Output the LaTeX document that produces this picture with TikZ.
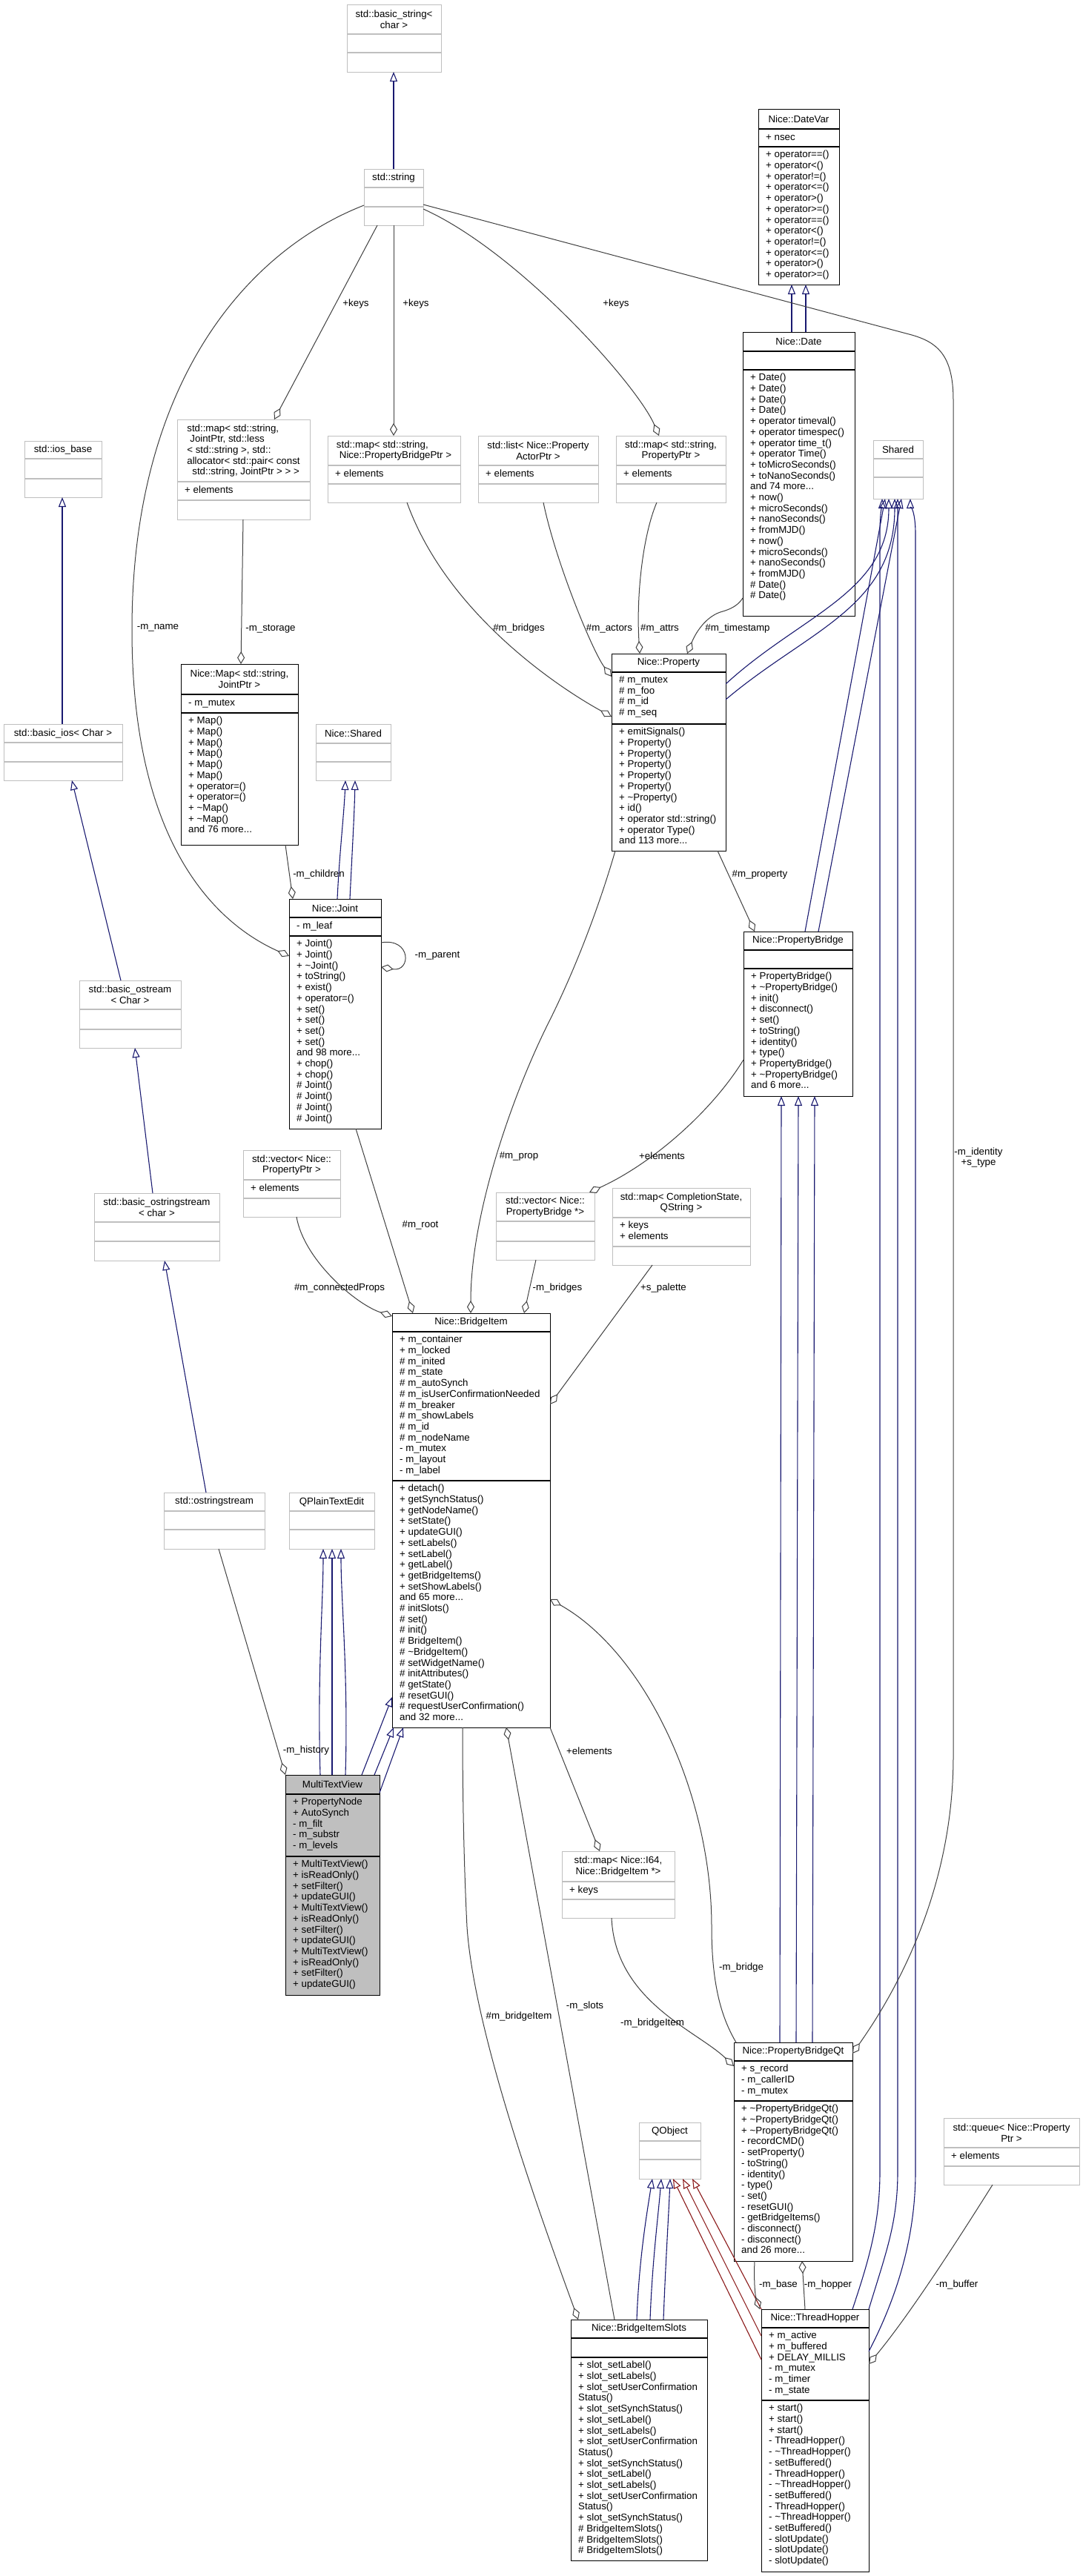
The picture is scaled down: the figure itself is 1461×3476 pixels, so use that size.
\documentclass[tikz,border=0pt]{standalone}
\usepackage{fontspec}
\setmainfont{Liberation Sans}
\usetikzlibrary{arrows.meta,calc}
\definecolor{navy}{HTML}{191970}
\definecolor{fire}{HTML}{8B1A1A}
\definecolor{edg}{HTML}{404040}
\definecolor{gbord}{HTML}{BFBFBF}
\definecolor{selfill}{HTML}{BFBFBF}
\newcommand\cpt[3]{($(#1.north west)+({#2-\csname nx-#1\endcsname},{#3-\csname ny-#1\endcsname})$)}
\newcommand\umlbox[9]{%
  \expandafter\gdef\csname nx-#1\endcsname{#3}%
  \expandafter\gdef\csname ny-#1\endcsname{#4}%
  \gdef\cx{#3}\gdef\cda{#7}\gdef\cdb{#8}\gdef\cname{#1}%
  \node[#2, anchor=north west, minimum width={(#5-#3)*1pt}, minimum height={(#6-#4)*1pt}] (#1) at (#3,#4) {};%
  \draw[#2 div] (#3,#7) -- (#5,#7) (#3,#8) -- (#5,#8);%
  \node[ttl,tal] (#1-t) at ({(#3+#5)/2},{(#4+#7)/2}) {#9};%
}
\newcommand\uattr[1]{\node[lst] (\cname-a) at (\cx+10,\cda+5) {#1};}
\newcommand\umeth[1]{\node[lst] (\cname-m) at (\cx+10,\cdb+5) {#1};}
\tikzset{
  every node/.style={font=\fontsize{13.3}{14.7}\selectfont},
  bx/.style={draw=black, line width=1.3pt, inner sep=0pt},
  gx/.style={draw=gbord, line width=1.3pt, inner sep=0pt},
  sx/.style={draw=black, fill=selfill, line width=1.3pt, inner sep=0pt},
  bx div/.style={draw=black, line width=1.3pt},
  gx div/.style={draw=gbord, line width=1.3pt},
  sx div/.style={draw=black, line width=1.3pt},
  ttl/.style={inner sep=0pt},
  tal/.style={align=center},
  lst/.style={align=left, anchor=north west, inner sep=0pt, execute at begin node={\rule{0pt}{10.5pt}}},
  inh/.style={draw=navy, line width=1.1pt, -{Triangle[open,length=13pt,width=10pt]}},
  inhr/.style={draw=fire, line width=1.1pt, -{Triangle[open,length=13pt,width=10pt]}},
  use/.style={draw=edg, line width=1pt, {Diamond[open,length=17pt,width=10pt]}-},
  lab/.style={inner sep=0pt}
}
\begin{document}
\begin{tikzpicture}[x=1pt,y=-1pt]
\fill[white] (0,0) rectangle (1461,3476);
\useasboundingbox (0,0) rectangle (1461,3476);

% ---------- classes ----------
\umlbox{bstr}{gx}{468}{6}{595}{97}{46}{71}{std::basic\_string<\\char >}
\umlbox{str}{gx}{491}{228}{571}{304}{253}{279}{std::string}

\umlbox{dvar}{bx}{1023}{147}{1132}{384}{174}{198}{Nice::DateVar}
\uattr{+ nsec}
\umeth{+ operator==()\\+ operator<()\\+ operator!=()\\+ operator<=()\\+ operator>()\\+ operator>=()\\+ operator==()\\+ operator<()\\+ operator!=()\\+ operator<=()\\+ operator>()\\+ operator>=()}

\umlbox{date}{bx}{1002}{448}{1153}{831}{474}{499}{Nice::Date}
\umeth{+ Date()\\+ Date()\\+ Date()\\+ Date()\\+ operator timeval()\\+ operator timespec()\\+ operator time\_t()\\+ operator Time()\\+ toMicroSeconds()\\+ toNanoSeconds()\\and 74 more...\\+ now()\\+ microSeconds()\\+ nanoSeconds()\\+ fromMJD()\\+ now()\\+ microSeconds()\\+ nanoSeconds()\\+ fromMJD()\\\# Date()\\\# Date()}

\umlbox{shr}{gx}{1178}{594}{1245}{673}{619}{644}{Shared}

\umlbox{ios}{gx}{33}{595}{137}{671}{619}{646}{std::ios\_base}
\umlbox{bios}{gx}{5}{977}{165}{1053}{1002}{1028}{std::basic\_ios< Char >}
\umlbox{bost}{gx}{107}{1323}{244}{1414}{1362}{1389}{std::basic\_ostream\\< Char >}
\umlbox{bostr}{gx}{127}{1610}{296}{1701}{1649}{1675}{std::basic\_ostringstream\\< char >}
\umlbox{ostr}{gx}{221}{2014}{357}{2090}{2039}{2064}{std::ostringstream}

\tikzset{tal/.style={align=left}}
\umlbox{mjp}{gx}{239}{566}{418}{701}{650}{675}{std::map< std::string,\\\hspace{4pt}JointPtr, std::less\\< std::string >, std::\\allocator< std::pair< const\\\hspace{7pt}std::string, JointPtr > > >}
\uattr{+ elements}
\umlbox{mpb}{gx}{442}{588}{621}{678}{628}{653}{std::map< std::string,\\\hspace{4pt}Nice::PropertyBridgePtr >}
\uattr{+ elements}
\tikzset{tal/.style={align=center}}
\umlbox{lst}{gx}{645}{588}{807}{678}{628}{653}{std::list< Nice::Property\\ActorPtr >}
\uattr{+ elements}
\umlbox{mpp}{gx}{831}{588}{979}{678}{628}{653}{std::map< std::string,\\PropertyPtr >}
\uattr{+ elements}

\umlbox{map}{bx}{244}{896}{402}{1140}{937}{962}{Nice::Map< std::string,\\JointPtr >}
\uattr{- m\_mutex}
\umeth{+ Map()\\+ Map()\\+ Map()\\+ Map()\\+ Map()\\+ Map()\\+ operator=()\\+ operator=()\\+ \textasciitilde Map()\\+ \textasciitilde Map()\\and 76 more...}

\umlbox{nshr}{gx}{426}{977}{527}{1053}{1003}{1028}{Nice::Shared}

\umlbox{joint}{bx}{390}{1213}{514}{1523}{1238}{1263}{Nice::Joint}
\uattr{- m\_leaf}
\umeth{+ Joint()\\+ Joint()\\+ \textasciitilde Joint()\\+ toString()\\+ exist()\\+ operator=()\\+ set()\\+ set()\\+ set()\\+ set()\\and 98 more...\\+ chop()\\+ chop()\\\# Joint()\\\# Joint()\\\# Joint()\\\# Joint()}

\umlbox{prop}{bx}{825}{882}{979}{1148}{907}{977}{Nice::Property}
\uattr{\# m\_mutex\\\# m\_foo\\\# m\_id\\\# m\_seq}
\umeth{+ emitSignals()\\+ Property()\\+ Property()\\+ Property()\\+ Property()\\+ Property()\\+ \textasciitilde Property()\\+ id()\\+ operator std::string()\\+ operator Type()\\and 113 more...}

\umlbox{pb}{bx}{1003}{1257}{1150}{1479}{1282}{1307}{Nice::PropertyBridge}
\umeth{+ PropertyBridge()\\+ \textasciitilde PropertyBridge()\\+ init()\\+ disconnect()\\+ set()\\+ toString()\\+ identity()\\+ type()\\+ PropertyBridge()\\+ \textasciitilde PropertyBridge()\\and 6 more...}

\umlbox{vpp}{gx}{328}{1552}{459}{1642}{1592}{1617}{std::vector< Nice::\\PropertyPtr >}
\uattr{+ elements}
\umlbox{vpb}{gx}{669}{1609}{802}{1700}{1648}{1675}{std::vector< Nice::\\PropertyBridge *>}
\umlbox{mcs}{gx}{826}{1603}{1012}{1707}{1643}{1682}{std::map< CompletionState,\\QString >}
\uattr{+ keys\\+ elements}

\umlbox{bi}{bx}{529}{1772}{742}{2331}{1797}{1998}{Nice::BridgeItem}
\uattr{+ m\_container\\+ m\_locked\\\# m\_inited\\\# m\_state\\\# m\_autoSynch\\\# m\_isUserConfirmationNeeded\\\# m\_breaker\\\# m\_showLabels\\\# m\_id\\\# m\_nodeName\\- m\_mutex\\- m\_layout\\- m\_label}
\umeth{+ detach()\\+ getSynchStatus()\\+ getNodeName()\\+ setState()\\+ updateGUI()\\+ setLabels()\\+ setLabel()\\+ getLabel()\\+ getBridgeItems()\\+ setShowLabels()\\and 65 more...\\\# initSlots()\\\# set()\\\# init()\\\# BridgeItem()\\\# \textasciitilde BridgeItem()\\\# setWidgetName()\\\# initAttributes()\\\# getState()\\\# resetGUI()\\\# requestUserConfirmation()\\and 32 more...}

\umlbox{qpt}{gx}{390}{2014}{505}{2090}{2039}{2064}{QPlainTextEdit}

\umlbox{mtv}{sx}{385}{2395}{512}{2692}{2421}{2505}{MultiTextView}
\uattr{+ PropertyNode\\+ AutoSynch\\- m\_filt\\- m\_substr\\- m\_levels}
\umeth{+ MultiTextView()\\+ isReadOnly()\\+ setFilter()\\+ updateGUI()\\+ MultiTextView()\\+ isReadOnly()\\+ setFilter()\\+ updateGUI()\\+ MultiTextView()\\+ isReadOnly()\\+ setFilter()\\+ updateGUI()}

\umlbox{mi64}{gx}{758}{2498}{910}{2588}{2539}{2563}{std::map< Nice::I64,\\Nice::BridgeItem *>}
\uattr{+ keys}

\umlbox{pbqt}{bx}{990}{2756}{1150}{3051}{2781}{2835}{Nice::PropertyBridgeQt}
\uattr{+ s\_record\\- m\_callerID\\- m\_mutex}
\umeth{+ \textasciitilde PropertyBridgeQt()\\+ \textasciitilde PropertyBridgeQt()\\+ \textasciitilde PropertyBridgeQt()\\- recordCMD()\\- setProperty()\\- toString()\\- identity()\\- type()\\- set()\\- resetGUI()\\- getBridgeItems()\\- disconnect()\\- disconnect()\\and 26 more...}

\umlbox{que}{gx}{1273}{2858}{1456}{2948}{2898}{2923}{std::queue< Nice::Property\\Ptr >}
\uattr{+ elements}

\umlbox{qobj}{gx}{862}{2864}{945}{2940}{2889}{2914}{QObject}

\umlbox{bis}{bx}{770}{3130}{954}{3455}{3155}{3181}{Nice::BridgeItemSlots}
\umeth{+ slot\_setLabel()\\+ slot\_setLabels()\\+ slot\_setUserConfirmation\\Status()\\+ slot\_setSynchStatus()\\+ slot\_setLabel()\\+ slot\_setLabels()\\+ slot\_setUserConfirmation\\Status()\\+ slot\_setSynchStatus()\\+ slot\_setLabel()\\+ slot\_setLabels()\\+ slot\_setUserConfirmation\\Status()\\+ slot\_setSynchStatus()\\\# BridgeItemSlots()\\\# BridgeItemSlots()\\\# BridgeItemSlots()}

\umlbox{th}{bx}{1027}{3116}{1172}{3470}{3141}{3239}{Nice::ThreadHopper}
\uattr{+ m\_active\\+ m\_buffered\\+ DELAY\_MILLIS\\- m\_mutex\\- m\_timer\\- m\_state}
\umeth{+ start()\\+ start()\\+ start()\\- ThreadHopper()\\- \textasciitilde ThreadHopper()\\- setBuffered()\\- ThreadHopper()\\- \textasciitilde ThreadHopper()\\- setBuffered()\\- ThreadHopper()\\- \textasciitilde ThreadHopper()\\- setBuffered()\\- slotUpdate()\\- slotUpdate()\\- slotUpdate()}

% ---------- inheritance ----------
\draw[inh] \cpt{str}{531}{228} -- \cpt{bstr}{531}{97};
\draw[inh] \cpt{date}{1068}{448} -- \cpt{dvar}{1068}{384};
\draw[inh] \cpt{date}{1087}{448} -- \cpt{dvar}{1087}{384};
\draw[inh] \cpt{bios}{84}{977} -- \cpt{ios}{84}{671};
\draw[inh] \cpt{bost}{163}{1323} -- \cpt{bios}{97}{1053};
\draw[inh] \cpt{bostr}{206}{1610} -- \cpt{bost}{182}{1414};
\draw[inh] \cpt{ostr}{278}{2014} -- \cpt{bostr}{222}{1701};
\draw[inh] \cpt{joint}{455}{1213} .. controls (458,1150) and (464,1100) .. \cpt{nshr}{466}{1053};
\draw[inh] \cpt{joint}{472}{1213} .. controls (475,1150) and (478,1100) .. \cpt{nshr}{479}{1053};
\draw[inh] \cpt{prop}{979}{923} .. controls (1080,830) and (1199,800) .. \cpt{shr}{1199}{673};
\draw[inh] \cpt{prop}{979}{944} .. controls (1090,850) and (1207,820) .. \cpt{shr}{1207}{673};
\draw[inh] \cpt{pb}{1086}{1257} -- \cpt{shr}{1194}{673};
\draw[inh] \cpt{pb}{1104}{1257} -- \cpt{shr}{1216}{673};
\draw[inh] \cpt{th}{1150}{3116} .. controls (1172,3050) and (1187,3000) .. (1187,2930) -- (1187,720) .. controls (1187,690) and (1190,680) .. \cpt{shr}{1190}{673};
\draw[inh] \cpt{th}{1172}{3116} .. controls (1195,3040) and (1211,3000) .. (1211,2930) -- \cpt{shr}{1211}{673};
\draw[inh] \cpt{th}{1172}{3173} .. controls (1215,3090) and (1235,3010) .. (1235,2930) -- (1235,720) .. controls (1235,690) and (1228,680) .. \cpt{shr}{1228}{673};
\draw[inh] \cpt{pbqt}{1052}{2756} -- \cpt{pb}{1054}{1479};
\draw[inh] \cpt{pbqt}{1074}{2756} -- \cpt{pb}{1077}{1479};
\draw[inh] \cpt{pbqt}{1096}{2756} -- \cpt{pb}{1099}{1479};
\draw[inh] \cpt{mtv}{432}{2395} .. controls (428,2260) and (436,2160) .. \cpt{qpt}{436}{2090};
\draw[inh] \cpt{mtv}{448}{2395} -- \cpt{qpt}{448}{2090};
\draw[inh] \cpt{mtv}{466}{2395} .. controls (470,2260) and (460,2160) .. \cpt{qpt}{460}{2090};
\draw[inh] \cpt{mtv}{488}{2395} -- \cpt{bi}{529}{2290};
\draw[inh] \cpt{mtv}{505}{2395} -- \cpt{bi}{531}{2331};
\draw[inh] \cpt{mtv}{512}{2419} -- \cpt{bi}{544}{2331};
\draw[inh] \cpt{bis}{859}{3130} .. controls (862,3050) and (872,2990) .. \cpt{qobj}{880}{2940};
\draw[inh] \cpt{bis}{877}{3130} .. controls (880,3050) and (888,2990) .. \cpt{qobj}{892}{2940};
\draw[inh] \cpt{bis}{895}{3130} .. controls (898,3050) and (902,2990) .. \cpt{qobj}{904}{2940};
\draw[inhr] \cpt{th}{1027}{3184} -- \cpt{qobj}{908}{2940};
\draw[inhr] \cpt{th}{1027}{3152} -- \cpt{qobj}{921}{2940};
\draw[inhr] \cpt{th}{1027}{3116} -- \cpt{qobj}{934}{2940};

% ---------- usage ----------
\draw[use] \cpt{mjp}{370}{566} -- \cpt{str}{509}{304};
\draw[use] \cpt{mpb}{531}{588} -- \cpt{str}{531}{304};
\draw[use] \cpt{mpp}{889}{588} .. controls (860,520) and (700,340) .. \cpt{str}{571}{282};
\draw[use] \cpt{map}{325}{896} -- \cpt{mjp}{328}{701};
\draw[use] \cpt{joint}{395}{1213} -- \cpt{map}{385}{1140};
\draw[use] \cpt{joint}{514}{1305} .. controls (555,1312) and (555,1265) .. \cpt{joint}{514}{1272};
\draw[use] \cpt{joint}{390}{1290} .. controls (300,1250) and (178,1150) .. (178,850) .. controls (178,520) and (330,340) .. \cpt{str}{491}{277};
\draw[use] \cpt{prop}{825}{967} .. controls (740,920) and (600,820) .. \cpt{mpb}{549}{678};
\draw[use] \cpt{prop}{825}{913} .. controls (800,880) and (750,760) .. \cpt{lst}{733}{678};
\draw[use] \cpt{prop}{863}{882} .. controls (858,800) and (868,720) .. \cpt{mpp}{886}{678};
\draw[use] \cpt{prop}{927}{882} .. controls (940,850) and (955,830) .. (975,825) .. controls (992,820) and (998,813) .. \cpt{date}{1002}{807};
\draw[use] \cpt{pb}{1018}{1257} -- \cpt{prop}{968}{1148};
\draw[use] \cpt{bi}{635}{1772} .. controls (635,1640) and (690,1480) .. (740,1380) .. controls (785,1290) and (815,1200) .. \cpt{prop}{830}{1148};
\draw[use] \cpt{vpb}{795}{1609} .. controls (880,1570) and (960,1500) .. \cpt{pb}{1003}{1430};
\draw[use] \cpt{bi}{707}{1772} -- \cpt{vpb}{723}{1700};
\draw[use] \cpt{bi}{742}{1895} -- \cpt{mcs}{880}{1707};
\draw[use] \cpt{bi}{529}{1776} .. controls (480,1760) and (410,1700) .. \cpt{vpp}{400}{1642};
\draw[use] \cpt{bi}{557}{1772} -- \cpt{joint}{480}{1523};
\draw[use] \cpt{mtv}{385}{2395} -- \cpt{ostr}{295}{2090};
\draw[use] \cpt{mi64}{809}{2498} -- \cpt{bi}{742}{2331};
\draw[use] \cpt{pbqt}{990}{2788} .. controls (940,2740) and (830,2700) .. \cpt{mi64}{825}{2588};
\draw[use] \cpt{bi}{742}{2158} .. controls (870,2230) and (960,2420) .. (960,2600) .. controls (960,2690) and (978,2730) .. \cpt{pbqt}{993}{2756};
\draw[use] \cpt{pbqt}{1150}{2771} .. controls (1200,2700) and (1286,2560) .. (1286,2370) -- (1286,540) .. controls (1286,480) and (1265,462) .. (1230,452) -- \cpt{str}{571}{276};
\draw[use] \cpt{th}{1025}{3116} .. controls (1018,3095) and (1017,3070) .. \cpt{pbqt}{1018}{3051};
\draw[use] \cpt{pbqt}{1082}{3051} -- \cpt{th}{1086}{3116};
\draw[use] \cpt{th}{1172}{3190} .. controls (1230,3120) and (1300,3010) .. \cpt{que}{1339}{2948};
\draw[use] \cpt{bis}{780}{3130} .. controls (740,3020) and (640,2750) .. (630,2600) .. controls (625,2500) and (624,2400) .. \cpt{bi}{624}{2331};
\draw[use] \cpt{bi}{683}{2331} -- \cpt{bis}{829}{3130};

% ---------- labels ----------
\node[lab] (l1) at (480,410) {+keys};
\node[lab] (l2) at (561,410) {+keys};
\node[lab] (l3) at (831,410) {+keys};
\node[lab] (l4) at (213,847) {-m\_name};
\node[lab] (l5) at (365,849) {-m\_storage};
\node[lab] (l6) at (430,1180) {-m\_children};
\node[lab] (l7) at (590,1290) {-m\_parent};
\node[lab] (l8) at (700,848) {\#m\_bridges};
\node[lab] (l9) at (822,848) {\#m\_actors};
\node[lab] (l10) at (890,848) {\#m\_attrs};
\node[lab] (l11) at (995,848) {\#m\_timestamp};
\node[lab] (l12) at (1025,1180) {\#m\_property};
\node[lab] (l13) at (700,1560) {\#m\_prop};
\node[lab] (l14) at (893,1560) {+elements};
\node[lab] (l15) at (752,1738) {-m\_bridges};
\node[lab] (l16) at (895,1738) {+s\_palette};
\node[lab] (l17) at (458,1738) {\#m\_connectedProps};
\node[lab] (l18) at (567,1653) {\#m\_root};
\node[lab] (l19) at (413,2362) {-m\_history};
\node[lab] (l20) at (795,2363) {+elements};
\node[lab] (l21) at (700,2721) {\#m\_bridgeItem};
\node[lab] (l22) at (789,2707) {-m\_slots};
\node[lab] (l23) at (880,2730) {-m\_bridgeItem};
\node[lab] (l24) at (1000,2655) {-m\_bridge};
\node[lab,align=center] (l25) at (1320,1562) {-m\_identity\\+s\_type};
\node[lab] (l26) at (1050,3083) {-m\_base};
\node[lab] (l27) at (1117,3083) {-m\_hopper};
\node[lab] (l28) at (1291,3083) {-m\_buffer};
\end{tikzpicture}
\end{document}
